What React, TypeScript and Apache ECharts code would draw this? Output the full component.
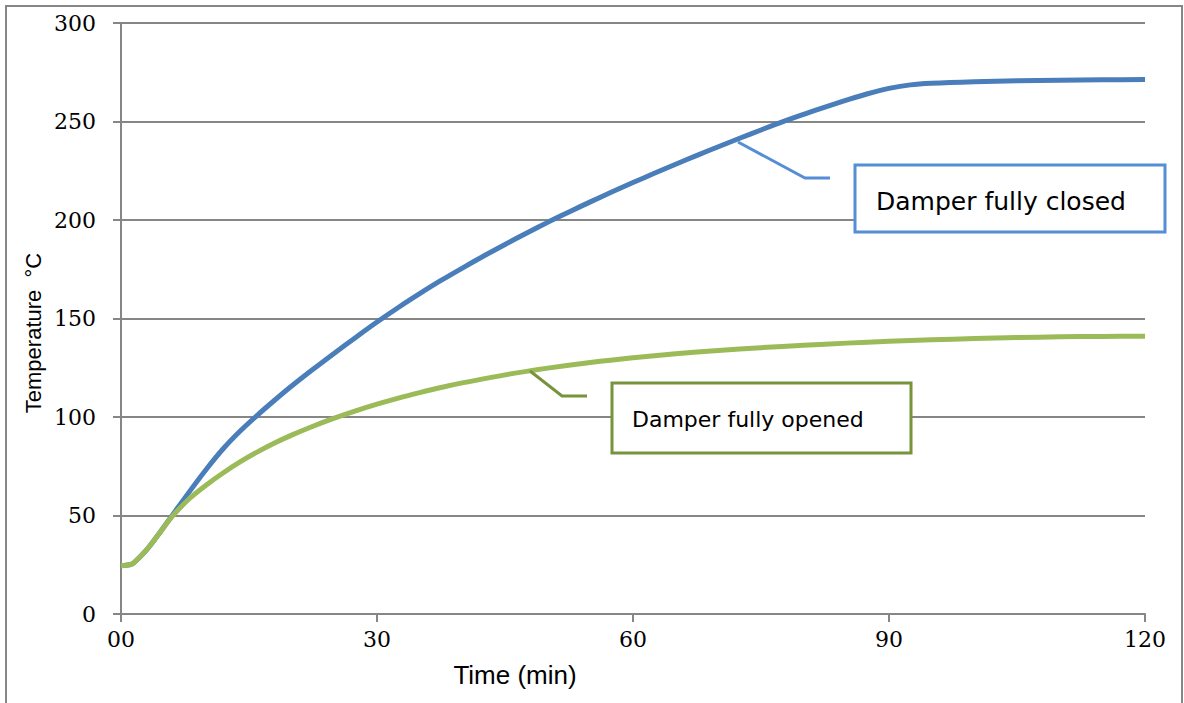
import React, { useEffect, useRef } from "react";
import * as echarts from "echarts";

const xTicks = [0, 30, 60, 90, 120];
const yTicks = [0, 50, 100, 150, 200, 250, 300];

const closedTime = [0, 1, 1.5, 3, 4.5, 6, 8, 10, 12, 14, 16, 18, 20, 22.5, 25, 27.5, 30, 32.5, 35, 37.5, 40, 42.5, 45, 47.5, 50, 52.5, 55, 57.5, 60, 62.5, 65, 67.5, 70, 72.5, 75, 77.5, 80, 82.5, 85, 87.5, 90, 92.5, 95, 100, 105, 110, 115, 120];
const closedTemp = [24.5, 25, 26, 32.5, 41, 50, 62, 73.5, 84, 93, 101, 108.5, 115.7, 124.2, 132.4, 140.4, 148.2, 155.6, 162.6, 169.3, 175.6, 181.7, 187.6, 193.3, 198.8, 204.1, 209.2, 214.2, 219, 223.7, 228.3, 232.8, 237.2, 241.5, 245.7, 249.8, 253.6, 257.3, 260.8, 264.1, 266.8, 268.6, 269.4, 270.2, 270.7, 271, 271.2, 271.3];

const openedTime = [0, 1, 1.5, 3, 4.5, 6, 8, 10, 12, 14, 16, 18, 20, 22.5, 25, 27.5, 30, 32.5, 35, 37.5, 40, 45, 50, 55, 60, 65, 70, 75, 80, 85, 90, 95, 100, 105, 110, 115, 120];
const openedTemp = [24.5, 25, 26, 32.5, 41, 49.5, 58.5, 65.5, 71.7, 77.3, 82.3, 86.8, 90.8, 95.3, 99.4, 103.1, 106.5, 109.6, 112.4, 115, 117.3, 121.4, 124.8, 127.7, 130.1, 132.1, 133.8, 135.2, 136.4, 137.5, 138.4, 139.2, 139.8, 140.3, 140.7, 140.9, 141];

const labelClosed = "Damper fully closed";
const labelOpened = "Damper fully opened";
const xName = "Time (min)";
const yName = "Temperature  °C";

export default function App() {
  const ref = useRef<HTMLDivElement>(null);
  useEffect(() => {
    if (!ref.current) return;
    const chart = echarts.init(ref.current, null, { renderer: "svg" });
    const grey = "#868686";
    const closedData = closedTime.map((t, i) => [t, closedTemp[i]]);
    const openedData = openedTime.map((t, i) => [t, openedTemp[i]]);
    chart.setOption({
      animation: false,
      backgroundColor: "#ffffff",
      grid: { left: 121, right: 39, top: 23, bottom: 89 },
      xAxis: {
        type: "value",
        min: xTicks[0],
        max: xTicks[xTicks.length - 1],
        interval: 30,
        axisLine: { show: true, lineStyle: { color: grey, width: 2 } },
        axisTick: { show: true, length: 8, lineStyle: { color: grey, width: 2 } },
        splitLine: { show: false },
        axisLabel: {
          color: "#000",
          fontFamily: "DejaVu Serif",
          fontSize: 22,
          margin: 14,
          formatter: (v: number) => (v === 0 ? "00" : String(v)),
        },
      },
      yAxis: {
        type: "value",
        min: yTicks[0],
        max: yTicks[yTicks.length - 1],
        interval: 50,
        axisLine: { show: true, lineStyle: { color: grey, width: 2 } },
        axisTick: { show: true, length: 8, lineStyle: { color: grey, width: 2 } },
        splitLine: { show: true, lineStyle: { color: grey, width: 2 } },
        axisLabel: {
          color: "#000",
          fontFamily: "DejaVu Serif",
          fontSize: 22,
          margin: 25,
        },
      },
      series: [
        {
          type: "line",
          data: closedData,
          smooth: 0.3,
          showSymbol: false,
          lineStyle: { color: "#4A7EBB", width: 5 },
          itemStyle: { color: "#4A7EBB" },
        },
        {
          type: "line",
          data: openedData,
          smooth: 0.3,
          showSymbol: false,
          lineStyle: { color: "#9BBB59", width: 5 },
          itemStyle: { color: "#9BBB59" },
        },
      ],
      graphic: [
        {
          type: "rect",
          shape: { x: 6, y: 6, width: 1176, height: 720 },
          style: { fill: "none", stroke: grey, lineWidth: 2 },
          silent: true,
          z: 0,
        },
        {
          type: "text",
          x: 33,
          y: 333,
          rotation: Math.PI / 2,
          style: {
            text: yName,
            fontFamily: "Liberation Sans",
            fontSize: 22,
            fill: "#000",
            textAlign: "center",
            textVerticalAlign: "middle",
          },
        },
        {
          type: "text",
          x: 515,
          y: 675,
          style: {
            text: xName,
            fontFamily: "Liberation Sans",
            fontSize: 26,
            fill: "#000",
            textAlign: "center",
            textVerticalAlign: "middle",
          },
        },
        {
          type: "polyline",
          shape: { points: [[738, 142], [805, 178], [830, 178]] },
          style: { stroke: "#558ED5", lineWidth: 3, fill: "none" },
          z: 10,
        },
        {
          type: "rect",
          shape: { x: 855, y: 165, width: 310, height: 67 },
          style: { fill: "#fff", stroke: "#558ED5", lineWidth: 3 },
          z: 10,
        },
        {
          type: "text",
          x: 876,
          y: 201,
          z: 11,
          style: {
            text: labelClosed,
            fontFamily: "DejaVu Sans",
            fontSize: 25,
            fill: "#000",
            textAlign: "left",
            textVerticalAlign: "middle",
          },
        },
        {
          type: "polyline",
          shape: { points: [[530, 371], [562, 396], [587, 396]] },
          style: { stroke: "#77933C", lineWidth: 3, fill: "none" },
          z: 10,
        },
        {
          type: "rect",
          shape: { x: 612, y: 383, width: 299, height: 70 },
          style: { fill: "#fff", stroke: "#77933C", lineWidth: 3 },
          z: 10,
        },
        {
          type: "text",
          x: 632,
          y: 419,
          z: 11,
          style: {
            text: labelOpened,
            fontFamily: "DejaVu Sans",
            fontSize: 22,
            fill: "#000",
            textAlign: "left",
            textVerticalAlign: "middle",
          },
        },
      ],
    });
    return () => chart.dispose();
  }, []);
  return (
    <div
      ref={ref}
      style={{ position: "fixed", left: 0, top: 0, width: 1184, height: 703 }}
    />
  );
}
